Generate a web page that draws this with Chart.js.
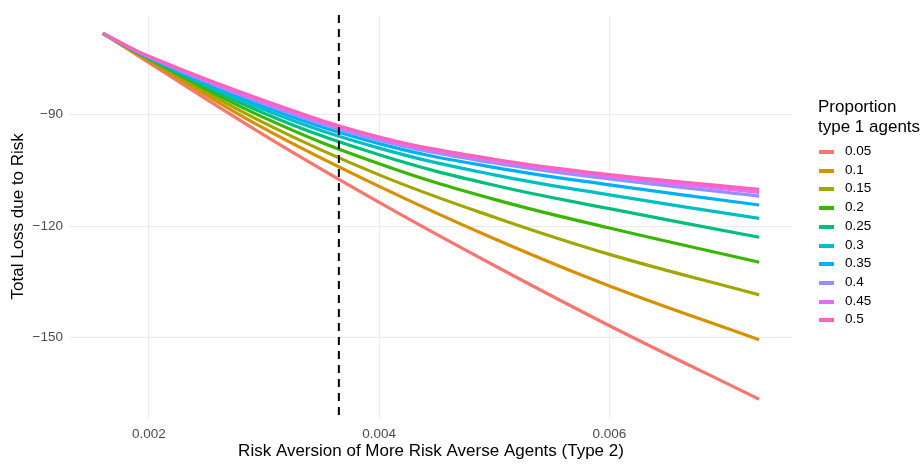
<!DOCTYPE html>
<html>
<head>
<meta charset="utf-8">
<script src="https://cdn.jsdelivr.net/npm/chart.js@4.4.0/dist/chart.umd.min.js"></script>
<style>
  body { margin: 0; background: #fff; }
  #wrap { position: relative; width: 923px; height: 464px; font-family: "Liberation Sans", Arial, sans-serif; }
  #legend { position: absolute; left: 818px; top: 97px; color: #000; }
  #legend .title { font-size: 17px; line-height: 20px; white-space: nowrap; }
  #legend .item { position: absolute; left: 0; height: 18px; width: 100px; font-size: 13.5px; }
  #legend .swatch { position: absolute; left: 1px; top: 7px; width: 15px; height: 4px; }
  #legend .label { position: absolute; left: 27px; top: 0px; }
</style>
</head>
<body>
<div id="wrap">
  <canvas id="myChart" width="923" height="464"></canvas>
  <div id="legend"></div>
</div>
<script>
// risk aversion of type 2 agents (x)
const riskAversion = [0.0016, 0.002, 0.003, 0.004, 0.005, 0.006, 0.0073];

// total loss due to risk, one series per proportion of type 1 agents
const lossP05 = [-68.1, -76.0, -95.5, -113.6, -130.6, -146.8, -166.6];
const lossP10 = [-68.1, -75.5, -93.7, -109.3, -123.4, -136.1, -150.6];
const lossP15 = [-68.1, -75.2, -92.2, -106.2, -117.6, -127.6, -138.5];
const lossP20 = [-68.1, -75.0, -90.8, -103.2, -112.8, -120.5, -129.7];
const lossP25 = [-68.1, -74.8, -89.6, -100.8, -109.0, -115.3, -123.0];
const lossP30 = [-68.1, -74.7, -88.6, -99.0, -106.2, -111.6, -117.9];
const lossP35 = [-68.1, -74.6, -87.8, -97.8, -104.2, -108.9, -114.3];
const lossP40 = [-68.1, -74.5, -87.1, -96.9, -103.0, -107.3, -111.9];
const lossP45 = [-68.1, -74.4, -86.6, -96.4, -102.4, -106.6, -110.9];
const lossP50 = [-68.1, -74.3, -86.2, -96.0, -102.0, -106.1, -110.1];

const proportions = ['0.05', '0.1', '0.15', '0.2', '0.25', '0.3', '0.35', '0.4', '0.45', '0.5'];
const seriesValues = [lossP05, lossP10, lossP15, lossP20, lossP25, lossP30, lossP35, lossP40, lossP45, lossP50];
const colors = ['#F8766D', '#D89000', '#A3A500', '#39B600', '#00BF7D', '#00BFC4', '#00B0F6', '#9590FF', '#E76BF3', '#FF62BC'];

const xTicks = [0.002, 0.004, 0.006];
const yTicks = [-150, -120, -90];
const cutoff = 0.00365;   // dashed reference line

const datasets = seriesValues.map((vals, i) => ({
    label: proportions[i],
    data: vals.map((v, j) => ({ x: riskAversion[j], y: v })),
    borderColor: colors[i],
    backgroundColor: colors[i],
    borderWidth: 3.2,
    pointRadius: 0,
    tension: 0.4,
    order: seriesValues.length - i   // last series drawn on top
}));

const cutoffLine = {
    id: 'cutoffLine',
    afterDatasetsDraw(chart) {
        const { ctx, chartArea, scales } = chart;
        const x = scales.x.getPixelForValue(cutoff);
        ctx.save();
        ctx.strokeStyle = '#000';
        ctx.lineWidth = 2;
        ctx.setLineDash([8, 6]);
        ctx.beginPath();
        ctx.moveTo(x, chartArea.top);
        ctx.lineTo(x, chartArea.bottom);
        ctx.stroke();
        ctx.restore();
    }
};

Chart.defaults.font.family = '"Liberation Sans", Arial, sans-serif';

const ctx = document.getElementById('myChart').getContext('2d');
new Chart(ctx, {
    type: 'line',
    data: { datasets: datasets },
    options: {
        responsive: false,
        animation: false,
        layout: { padding: { top: 10, right: 131, left: 0, bottom: 0 } },
        plugins: { legend: { display: false }, tooltip: { enabled: false } },
        scales: {
            x: {
                type: 'linear',
                min: 0.001315,
                max: 0.007585,
                afterBuildTicks: s => { s.ticks = xTicks.map(v => ({ value: v })); },
                afterFit: s => { s.height = 46.5; },
                grid: { color: '#ebebeb', lineWidth: 1.1, drawTicks: false },
                border: { display: false },
                ticks: { color: '#4d4d4d', font: { size: 13.5 }, padding: 9, maxRotation: 0,
                         callback: v => v.toFixed(3) },
                title: { display: true, text: 'Risk Aversion of More Risk Averse Agents (Type 2)',
                         color: '#000', font: { size: 17 }, padding: { top: 2, bottom: 2 } }
            },
            y: {
                type: 'linear',
                min: -171.5,
                max: -63.2,
                afterBuildTicks: s => { s.ticks = yTicks.map(v => ({ value: v })); },
                afterFit: s => { s.width = 70; },
                grid: { color: '#ebebeb', lineWidth: 1.1, drawTicks: false },
                border: { display: false },
                ticks: { color: '#4d4d4d', font: { size: 13.5 }, padding: 7,
                         callback: v => '\u2212' + Math.abs(v) },
                title: { display: true, text: 'Total Loss due to Risk',
                         color: '#000', font: { size: 17 }, padding: { top: 8, bottom: 2 } }
            }
        }
    },
    plugins: [cutoffLine]
});

// legend
const legend = document.getElementById('legend');
legend.innerHTML = '<div class="title">Proportion<br>type 1 agents</div>';
proportions.forEach((p, i) => {
    const item = document.createElement('div');
    item.className = 'item';
    item.style.top = (46 + i * 18.7) + 'px';
    item.innerHTML = '<div class="swatch" style="background:' + colors[i] + '"></div><div class="label">' + p + '</div>';
    legend.appendChild(item);
});
</script>
</body>
</html>
